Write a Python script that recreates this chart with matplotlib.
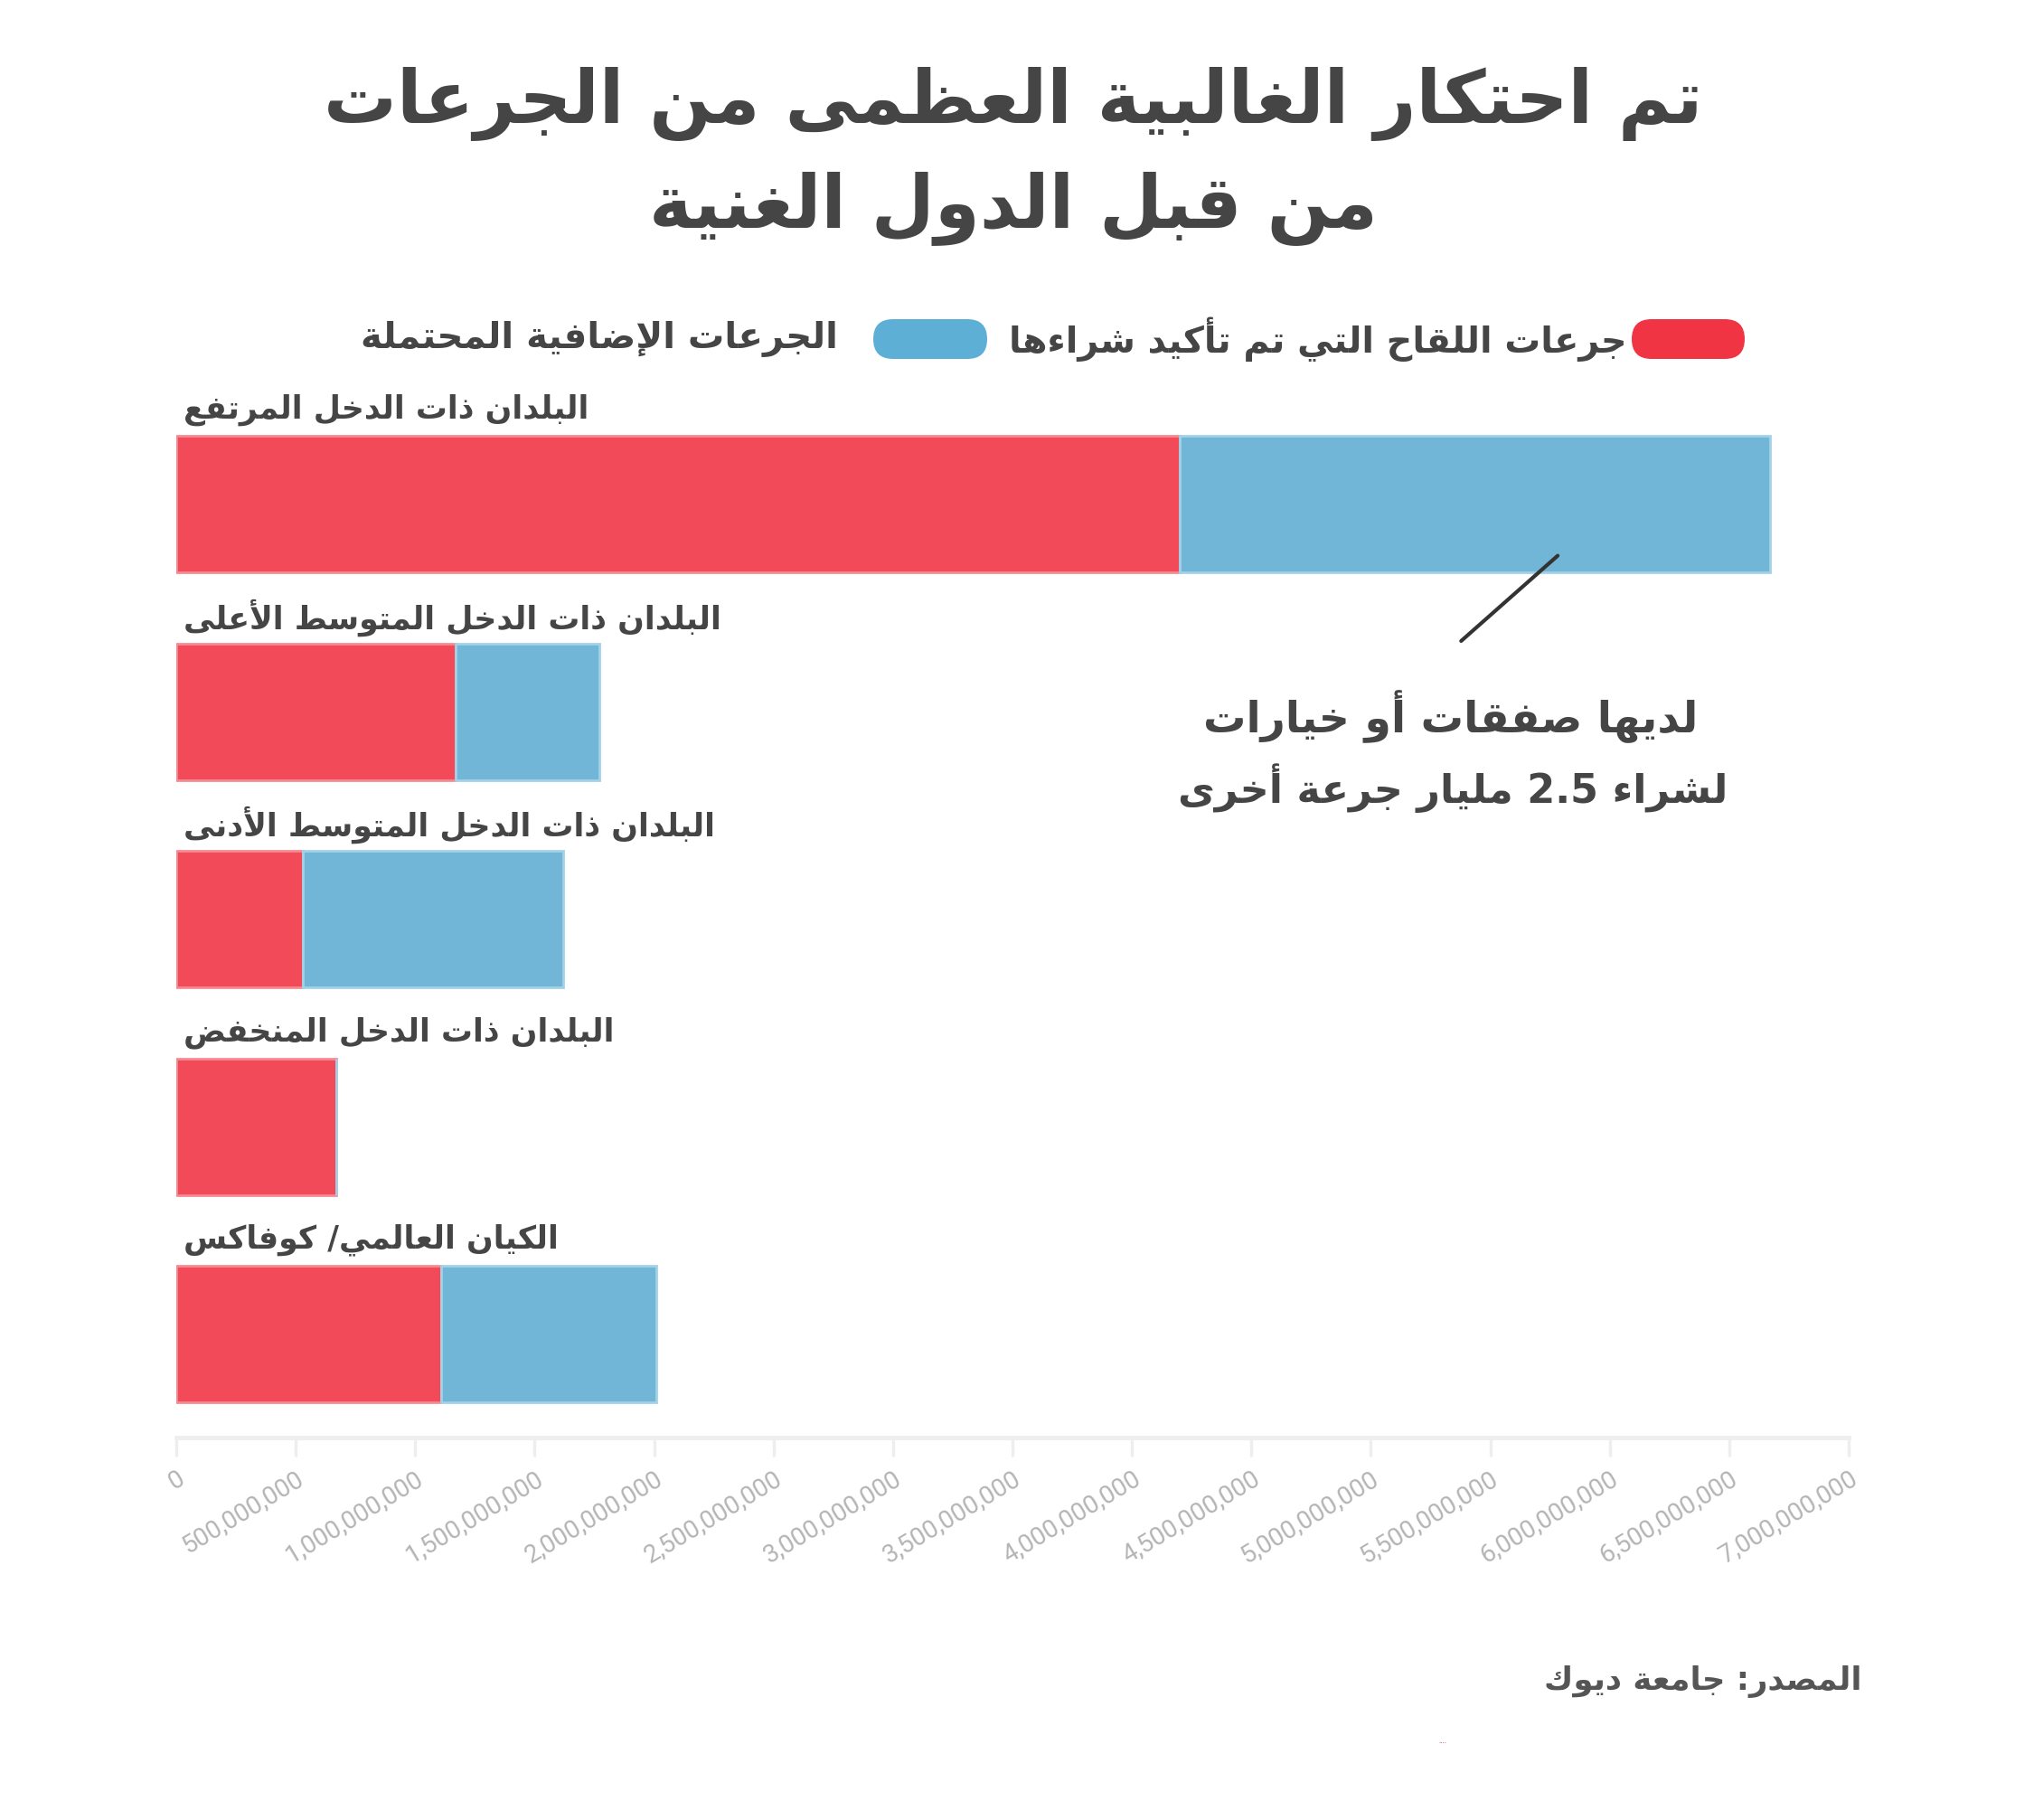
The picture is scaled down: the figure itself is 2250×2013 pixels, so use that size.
import re
import matplotlib
matplotlib.use("Agg")
import matplotlib.pyplot as plt
from matplotlib.patches import FancyBboxPatch

# Arabic shaping by hand: matplotlib draws glyphs one by one, left to right
RIGHT_JOIN = {0x622: 0xFE81, 0x623: 0xFE83, 0x624: 0xFE85, 0x625: 0xFE87, 0x627: 0xFE8D,
              0x629: 0xFE93, 0x62F: 0xFEA9, 0x630: 0xFEAB, 0x631: 0xFEAD, 0x632: 0xFEAF,
              0x648: 0xFEED, 0x649: 0xFEEF}
DUAL_JOIN = {0x626: 0xFE89, 0x628: 0xFE8F, 0x62A: 0xFE95, 0x62B: 0xFE99, 0x62C: 0xFE9D,
             0x62D: 0xFEA1, 0x62E: 0xFEA5, 0x633: 0xFEB1, 0x634: 0xFEB5, 0x635: 0xFEB9,
             0x636: 0xFEBD, 0x637: 0xFEC1, 0x638: 0xFEC5, 0x639: 0xFEC9, 0x63A: 0xFECD,
             0x641: 0xFED1, 0x642: 0xFED5, 0x643: 0xFED9, 0x644: 0xFEDD, 0x645: 0xFEE1,
             0x646: 0xFEE5, 0x647: 0xFEE9, 0x64A: 0xFEF1}
LAM_ALEF = {0x622: 0xFEF5, 0x623: 0xFEF7, 0x625: 0xFEF9, 0x627: 0xFEFB}


def ar(s):
    units = []
    i = 0
    while i < len(s):
        c = ord(s[i])
        if c == 0x644 and i + 1 < len(s) and ord(s[i + 1]) in LAM_ALEF:
            units.append(("la", LAM_ALEF[ord(s[i + 1])]))
            i += 2
        else:
            units.append(("c", c))
            i += 1

    def joins_next(u):
        return u[0] == "c" and u[1] in DUAL_JOIN

    def joining(u):
        return u[0] == "la" or u[1] in DUAL_JOIN or u[1] in RIGHT_JOIN

    out = []
    for k, u in enumerate(units):
        prev = units[k - 1] if k > 0 else None
        nxt = units[k + 1] if k + 1 < len(units) else None
        p = prev is not None and joins_next(prev) and joining(u)
        n = joins_next(u) and nxt is not None and joining(nxt)
        if u[0] == "la":
            out.append(chr(u[1] + (1 if p else 0)))
        elif u[1] in DUAL_JOIN:
            out.append(chr(DUAL_JOIN[u[1]] + (3 if p and n else 1 if p else 2 if n else 0)))
        elif u[1] in RIGHT_JOIN:
            out.append(chr(RIGHT_JOIN[u[1]] + (1 if p else 0)))
        elif u[1] == 0x621:
            out.append("\uFE80")
        else:
            out.append(chr(u[1]))
    vis = "".join(out)[::-1]
    vis = re.sub(r"[0-9][0-9.,]*", lambda m: m.group(0)[::-1], vis)
    return vis


# data
categories = ["البلدان ذات الدخل المرتفع",
              "البلدان ذات الدخل المتوسط الأعلى",
              "البلدان ذات الدخل المتوسط الأدنى",
              "البلدان ذات الدخل المنخفض",
              "الكيان العالمي/ كوفاكس"]
confirmed = [4.2e9, 1.17e9, 0.53e9, 0.67e9, 1.11e9]
potential = [2.47e9, 0.6e9, 1.09e9, 0.0, 0.9e9]
ticks = [i * 500_000_000 for i in range(15)]

title_lines = ["تم احتكار الغالبية العظمى من الجرعات", "من قبل الدول الغنية"]
legend_red = "جرعات اللقاح التي تم تأكيد شراءها"
legend_blue = "الجرعات الإضافية المحتملة"
note_lines = ["لديها صفقات أو خيارات", "لشراء 2.5 مليار جرعة أخرى"]
source = "المصدر: جامعة ديوك"

RED = "#f24a58"
RED_EDGE = "#f58a92"
BLUE = "#71b6d7"
BLUE_EDGE = "#a3d2e8"
TXT = "#454545"
W, H = 2250, 2013

fig = plt.figure(figsize=(W / 100, H / 100), dpi=100)
fig.patch.set_facecolor("white")

# axes: x 195..2045 px, y 397..1590 px (from top)
ax = fig.add_axes([195 / W, (H - 1590) / H, 1850 / W, 1193 / H])
ypos = list(range(len(categories)))
ax.barh(ypos, confirmed, height=0.658, color=RED, edgecolor=RED_EDGE, linewidth=2, zorder=2)
ax.barh(ypos, potential, left=confirmed, height=0.658, color=BLUE, edgecolor=BLUE_EDGE,
        linewidth=2, zorder=2)
ax.set_xlim(0, 7e9)
ax.set_ylim(4.497, -0.7)

for y, name in zip(ypos, categories):
    ax.text(0.03e9, y - 0.455, ar(name), fontsize=25, fontweight="bold", color=TXT,
            ha="left", va="center", family="DejaVu Sans")

for s in ["top", "right", "left"]:
    ax.spines[s].set_visible(False)
ax.spines["bottom"].set_color("#eeeeee")
ax.spines["bottom"].set_linewidth(3.5)
ax.set_yticks([])
ax.set_xticks(ticks)
ax.set_xticklabels([f"{t:,}" for t in ticks], rotation=31, ha="right", va="top",
                   rotation_mode="anchor", fontsize=20, color="#b4b4b4", family="Roboto")
ax.tick_params(axis="x", length=15, width=2.5, color="#eeeeee", pad=8)

# annotation leader line
ax.annotate("", xy=(5.79e9, 0.24), xytext=(5.37e9, 0.667),
            arrowprops=dict(arrowstyle="-", color="#333333", lw=3), annotation_clip=False)

# overlay in pixel coordinates for title / legend / notes
lay = fig.add_axes([0, 0, 1, 1])
lay.set_xlim(0, W)
lay.set_ylim(H, 0)
lay.axis("off")

lay.text(1121, 115, ar(title_lines[0]), fontsize=58, fontweight="bold", color=TXT,
         ha="center", va="center")
lay.text(1121, 231, ar(title_lines[1]), fontsize=58, fontweight="bold", color=TXT,
         ha="center", va="center")

lay.add_patch(FancyBboxPatch((1805, 353), 125, 44, boxstyle="round,pad=0,rounding_size=22",
                             facecolor="#f03444", edgecolor="none"))
lay.add_patch(FancyBboxPatch((966, 353), 126, 44, boxstyle="round,pad=0,rounding_size=22",
                             facecolor="#5eafd6", edgecolor="none"))
lay.text(1800, 375, ar(legend_red), fontsize=28.5, fontweight="bold", color=TXT,
         ha="right", va="center")
lay.text(927, 375, ar(legend_blue), fontsize=29, fontweight="bold", color=TXT,
         ha="right", va="center")

lay.text(1605, 793, ar(note_lines[0]), fontsize=34, fontweight="bold", color=TXT,
         ha="center", va="center")
lay.text(1607, 872, ar(note_lines[1]), fontsize=32, fontweight="bold", color=TXT,
         ha="center", va="center")

lay.text(2060, 1860, ar(source), fontsize=25.5, fontweight="bold", color="#555555",
         ha="right", va="center")
lay.text(1596, 1928, "····", fontsize=5, color="#e03040", ha="center", va="center")

fig.savefig("out.png", dpi=100)
